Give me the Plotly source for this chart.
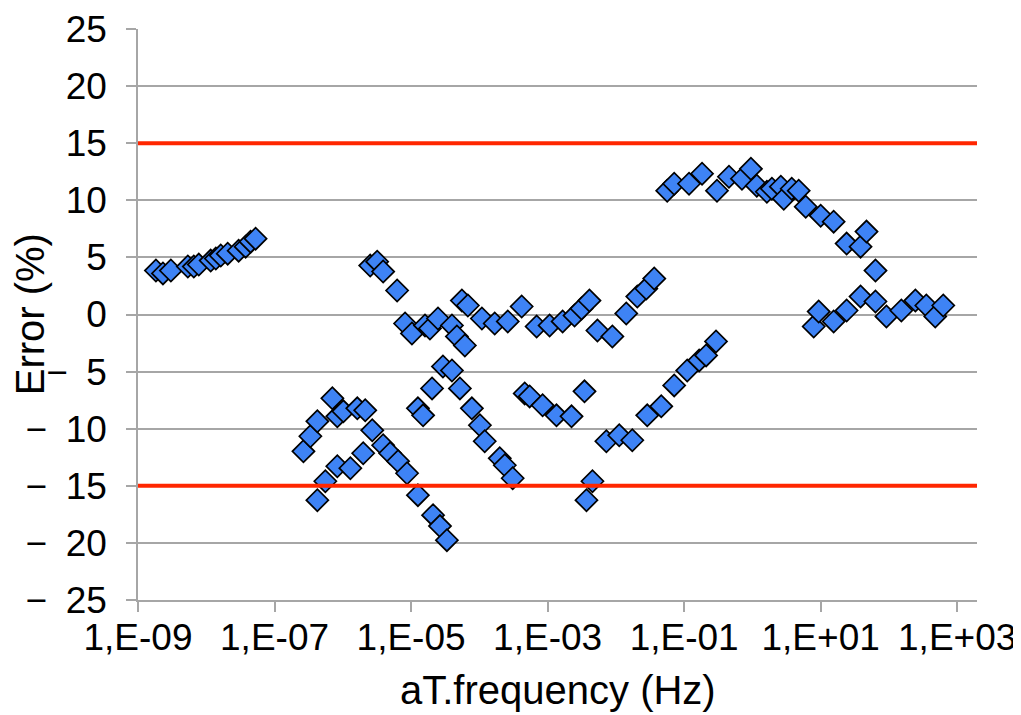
import plotly.graph_objects as go

# ---- data (frequency in Hz, error in %) ----
freq_a = [1.83e-9, 2.32e-9, 3.03e-9, 5.37e-9, 6.57e-9, 7.77e-9, 1.16e-8, 1.38e-8,
          1.63e-8, 2.06e-8, 2.98e-8, 3.77e-8, 4.46e-8, 5.28e-8]
err_a = [3.85, 3.6, 3.85, 4.20, 4.20, 4.37, 4.72, 4.90, 5.16, 5.33, 5.59, 5.94, 6.38, 6.64]

freq_b = [2.52e-6, 3.19e-6, 3.90e-6, 6.25e-6, 8.17e-6, 1.03e-5, 1.60e-5, 1.89e-5, 2.48e-5,
          3.97e-5, 4.69e-5, 6.14e-5, 5.55e-5, 6.79e-5, 1.09e-4, 1.68e-4, 2.61e-4, 4.17e-4,
          6.91e-4, 1.07e-3, 1.66e-3, 2.48e-3, 3.14e-3, 4.10e-3, 5.37e-3, 8.89e-3, 1.42e-2,
          2.06e-2, 2.79e-2, 3.65e-2]
err_b = [4.28, 4.63, 3.76, 2.10, -0.79, -1.66, -0.96, -1.22, -0.35,
         -0.96, -1.92, -2.71, 1.22, 0.79, -0.35, -0.79, -0.61, 0.70,
         -1.05, -0.96, -0.61, -0.09, 0.52, 1.22, -1.40, -1.92, 0.09,
         1.57, 2.27, 3.15]

freq_c = [2.65e-7, 3.35e-7, 4.24e-7, 7.03e-7, 8.31e-7, 1.02e-6, 1.63e-6, 2.13e-6, 2.70e-6,
          3.90e-6, 4.94e-6, 6.46e-6, 8.74e-6, 1.26e-5, 2.10e-5, 2.65e-5, 3.35e-5,
          4.24e-7, 5.55e-7, 8.31e-7, 1.29e-6, 1.99e-6]
err_c = [-11.98, -10.66, -9.35, -7.34, -8.92, -8.48, -8.22, -8.39, -10.14,
         -11.45, -12.15, -12.85, -13.90, -15.82, -17.57, -18.53, -19.76,
         -16.26, -14.60, -13.29, -13.46, -12.15]

freq_d = [1.26e-5, 1.50e-5, 2.03e-5, 2.93e-5, 3.97e-5, 5.19e-5, 7.77e-5, 1.02e-4,
          1.20e-4, 1.99e-4, 2.36e-4, 3.08e-4]
err_d = [-8.22, -8.83, -6.47, -4.55, -4.90, -6.47, -8.22, -9.70,
         -11.10, -12.59, -13.20, -14.34]

freq_e = [4.62e-4, 5.46e-4, 8.45e-4, 1.35e-3, 2.24e-3, 3.47e-3, 3.71e-3, 4.54e-3,
          7.26e-3, 1.12e-2, 1.74e-2, 2.88e-2, 4.62e-2, 7.15e-2, 0.111, 0.166, 0.210, 0.293]
err_e = [-6.91, -7.17, -7.95, -8.83, -8.92, -6.73, -16.26, -14.60,
         -11.10, -10.58, -11.01, -8.83, -8.04, -6.21, -4.90, -4.02, -3.58, -2.36]

freq_f = [5.65e-2, 7.15e-2, 0.118, 0.183, 0.303, 0.454, 0.703, 0.951, 1.16, 1.63, 1.93,
          2.61, 2.88, 3.77, 4.77, 6.04, 10.0, 15.5, 24.0, 38.4, 46.9, 63.5]
err_f = [10.84, 11.45, 11.45, 12.33, 10.84, 12.06, 11.89, 12.76, 11.28, 10.75, 11.01,
         11.19, 10.14, 11.01, 10.84, 9.44, 8.65, 8.13, 6.21, 5.94, 7.26, 3.85]

freq_g = [7.91, 9.35, 15.5, 24.0, 38.4, 63.5, 91.9, 152, 244, 353, 477, 625]
err_g = [-1.05, 0.26, -0.61, 0.35, 1.57, 1.14, -0.17, 0.35, 1.22, 0.79, -0.17, 0.79]

limits = [15, -15]

x_tick_vals = [1e-9, 1e-7, 1e-5, 1e-3, 1e-1, 1e1, 1e3]
x_tick_text = ["1,E-09", "1,E-07", "1,E-05", "1,E-03", "1,E-01", "1,E+01", "1,E+03"]
y_tick_vals = [25, 20, 15, 10, 5, 0, -5, -10, -15, -20, -25]
y_tick_text = ["25", "20", "15", "10", "5", "0",
               "\u2212\u20025", "\u2212\u200210", "\u2212\u200215", "\u2212\u200220", "\u2212\u200225"]

x_title = "aT.frequency (Hz)"
y_title = "Error (%)"

freq_all = freq_a + freq_b + freq_c + freq_d + freq_e + freq_f + freq_g
err_all = err_a + err_b + err_c + err_d + err_e + err_f + err_g

fig = go.Figure()

# red limit lines, drawn as traces on a hidden overlay x-axis spanning the plot width
for lim in limits:
    fig.add_trace(go.Scatter(
        x=[0, 1], y=[lim, lim], xaxis="x2", yaxis="y", mode="lines",
        line=dict(color="rgb(255,38,0)", width=4), hoverinfo="skip", showlegend=False,
    ))

fig.add_trace(go.Scatter(
    x=freq_all, y=err_all, mode="markers",
    marker=dict(symbol="diamond", size=17, color="rgb(62,131,245)",
                line=dict(color="black", width=1.7)),
    showlegend=False, cliponaxis=False,
))

FONT = "Liberation Sans, Arial, sans-serif"
fig.update_layout(
    width=1013, height=707,
    margin=dict(l=130, r=44, t=21, b=115),
    plot_bgcolor="white", paper_bgcolor="white",
    font=dict(family=FONT, size=37, color="black"),
    showlegend=False,
    xaxis2=dict(overlaying="x", range=[0, 1], visible=False, showgrid=False),
    annotations=[
        dict(text=x_title, xref="paper", yref="paper", x=0.5, y=-0.1576,
             xanchor="center", yanchor="middle", showarrow=False,
             font=dict(family=FONT, size=40, color="black")),
        dict(text=y_title, xref="paper", yref="paper", x=-0.129, y=0.5,
             xanchor="center", yanchor="middle", showarrow=False, textangle=-90,
             font=dict(family=FONT, size=40, color="black")),
    ],
)
fig.layout.xaxis.update(
    type="log", range=[-9, 3.29], automargin=False, ticklabeloverflow="allow",
    tickvals=x_tick_vals, ticktext=x_tick_text,
    showgrid=False, showline=True, linecolor="#a6a6a6", linewidth=1.5,
    ticks="outside", ticklen=10, tickcolor="#a6a6a6", tickwidth=1.5,
    tickfont=dict(size=37), zeroline=False, ticklabelstandoff=-6,
)
fig.layout.yaxis.update(
    range=[-25, 25], tickvals=y_tick_vals, ticktext=y_tick_text, automargin=False,
    ticklabeloverflow="allow",
    showgrid=True, gridcolor="#a6a6a6", gridwidth=1.5,
    showline=True, linecolor="#a6a6a6", linewidth=1.5,
    ticks="outside", ticklen=10, tickcolor="#a6a6a6", tickwidth=1.5,
    tickfont=dict(size=37), zeroline=False, ticklabelstandoff=12,
)

fig.write_html("out.html")
